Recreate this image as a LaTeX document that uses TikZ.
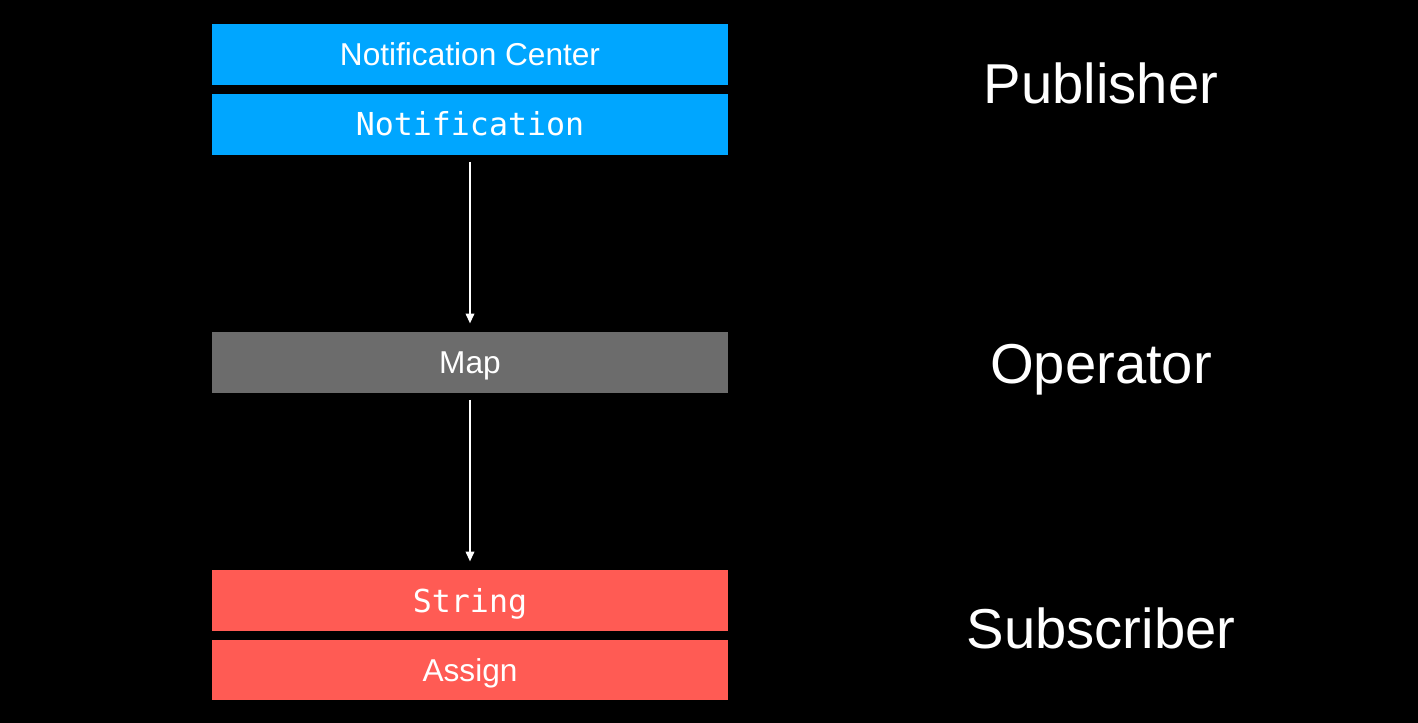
\documentclass[tikz,border=0pt]{standalone}
\usepackage{fontspec}
\setmainfont{Liberation Sans}
\setmonofont{DejaVu Sans Mono}
\usepackage{xcolor}
\usetikzlibrary{positioning,arrows.meta}

\definecolor{pubblue}{RGB}{0, 166, 255}
\definecolor{opgray}{RGB}{108, 108, 108}
\definecolor{subred}{RGB}{255, 91, 84}

\tikzset{
    stagebox/.style={rectangle, minimum width=10.32cm, minimum height=1.22cm,
        inner sep=0pt, outer sep=0pt, text=white,
        text height=0.46cm, text depth=0pt,
        font=\fontsize{18}{20}\selectfont},
    pubbox/.style={stagebox, fill=pubblue},
    opbox/.style={stagebox, fill=opgray},
    subbox/.style={stagebox, fill=subred},
    codetext/.style={font=\ttfamily\fontsize{18}{20}\selectfont},
    tierlabel/.style={anchor=base, text=white, font=\fontsize{32}{36}\selectfont},
    flowarrow/.style={white, line width=1.2pt, -{Triangle[length=0.2cm, width=0.17cm]},
        shorten <=0.14cm, shorten >=0.17cm}
}

\begin{document}
\begin{tikzpicture}[x=0.02cm, y=-0.02cm]
    % Background
    \fill[black] (0, 0) rectangle (1418, 723);

    % Publisher
    \node[pubbox] (center) at (470, 54.5) {Notification Center};
    \node[pubbox, codetext] (notif) at (470, 124.5) {Notification};

    % Operator
    \node[opbox] (map) at (470, 362.5) {Map};

    % Subscriber
    \node[subbox, codetext] (string) at (470, 600.5) {String};
    \node[subbox] (assign) at (470, 670) {Assign};

    % Flow
    \draw[flowarrow] (notif) -- (map);
    \draw[flowarrow] (map) -- (string);

    % Tier labels
    \node[tierlabel] (publisher) at (1101, 104) {Publisher};
    \node[tierlabel] (operator) at (1101, 383) {Operator};
    \node[tierlabel] (subscriber) at (1101, 648) {Subscriber};
\end{tikzpicture}
\end{document}
